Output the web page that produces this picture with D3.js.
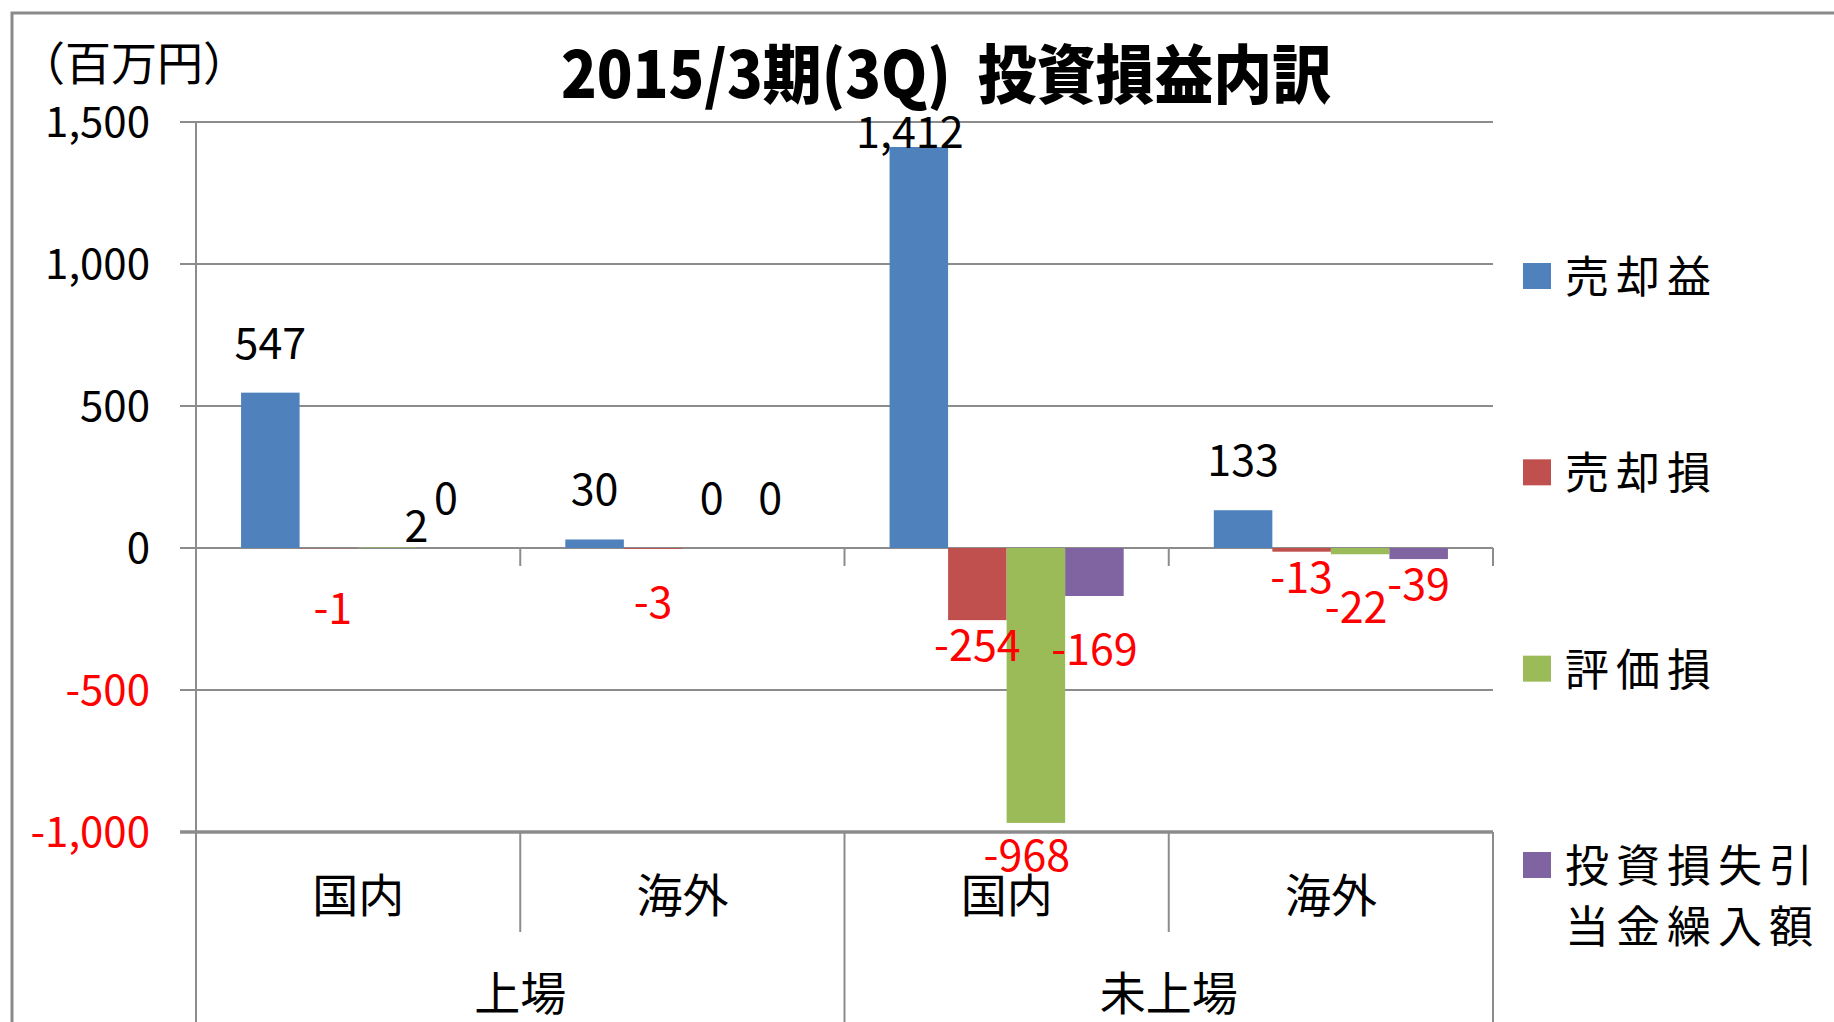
<!DOCTYPE html>
<html>
<head>
<meta charset="utf-8">
<script src="https://cdn.jsdelivr.net/npm/d3@7"></script>
<style>
  body { margin: 0; background: #fff; }
  text { font-family: "Noto Sans CJK JP", "Noto Sans", sans-serif; }
</style>
</head>
<body>
<svg id="svg"></svg>
<script>
// data
const groups = ["上場", "上場", "未上場", "未上場"];
const categories = ["国内", "海外", "国内", "海外"];
const seriesNames = ["売却益", "売却損", "評価損", "投資損失引当金繰入額"];

const gainOnSale = [547, 30, 1412, 133];
const lossOnSale = [-1, -3, -254, -13];
const valuationLoss = [2, 0, -968, -22];
const allowance = [0, 0, -169, -39];

const yTicks = [-1000, -500, 0, 500, 1000, 1500];
const colors = ["#4F81BD", "#C0504D", "#9BBB59", "#8064A2"];

const seriesValues = [gainOnSale, lossOnSale, valuationLoss, allowance];

// SVG setup
const width = 1834;
const height = 1022;

const svg = d3.select("#svg").attr("width", width).attr("height", height);

const plot = { left: 196, right: 1493, top: 122, bottom: 832 };
const gridColor = "#8c8c8c";
const fmt = d3.formatLocale({
    decimal: ".",
    thousands: ",",
    grouping: [3],
    currency: ["", ""],
    minus: "-",
}).format(",");

const y = d3.scaleLinear().domain([-1000, 1500]).range([plot.bottom, plot.top]);

const catKeys = categories.map((d, i) => i);
const x0 = d3.scaleBand().domain(catKeys).range([plot.left, plot.right]);
const x1 = d3
    .scaleBand()
    .domain(d3.range(seriesNames.length))
    .range([0, x0.bandwidth()])
    .paddingOuter(0.77);

// chart border (runs off the picture on right / bottom)
svg.append("rect")
    .attr("x", 12)
    .attr("y", 13)
    .attr("width", 2000)
    .attr("height", 2000)
    .attr("fill", "none")
    .attr("stroke", "#8a8a8a")
    .attr("stroke-width", 3);

// title
svg.append("text")
    .attr("x", 946)
    .attr("y", 98)
    .attr("text-anchor", "middle")
    .attr("font-size", 64)
    .attr("font-weight", 900)
    .attr("textLength", 770)
    .attr("lengthAdjust", "spacingAndGlyphs")
    .style("white-space", "pre")
    .text("2015/3期(3Q)  投資損益内訳");

svg.append("text")
    .attr("x", 19)
    .attr("y", 80)
    .attr("font-size", 46)
    .text("（百万円）");

// gridlines + y ticks
svg.selectAll("line.grid")
    .data(yTicks)
    .join("line")
    .attr("class", "grid")
    .attr("x1", 180)
    .attr("x2", plot.right)
    .attr("y1", (d) => y(d))
    .attr("y2", (d) => y(d))
    .attr("stroke", gridColor)
    .attr("stroke-width", (d) => (d === -1000 ? 3.5 : 2));

svg.selectAll("text.ytick")
    .data(yTicks)
    .join("text")
    .attr("class", "ytick")
    .attr("x", 150)
    .attr("y", (d) => y(d) + 15)
    .attr("text-anchor", "end")
    .attr("font-size", 42)
    .attr("fill", (d) => (d < 0 ? "#ff0000" : "#000"))
    .text((d) => fmt(d));

// y axis line
svg.append("line")
    .attr("x1", plot.left)
    .attr("x2", plot.left)
    .attr("y1", plot.top)
    .attr("y2", height)
    .attr("stroke", gridColor)
    .attr("stroke-width", 2);

// tick marks on zero line
const bounds = catKeys.map((d) => x0(d)).concat([plot.right]);
svg.selectAll("line.xtick")
    .data(bounds)
    .join("line")
    .attr("class", "xtick")
    .attr("x1", (d) => d)
    .attr("x2", (d) => d)
    .attr("y1", y(0))
    .attr("y2", y(0) + 18)
    .attr("stroke", gridColor)
    .attr("stroke-width", 2);

// bars
const bars = [];
catKeys.forEach((c) => {
    seriesValues.forEach((vals, s) => {
        bars.push({ c: c, s: s, value: vals[c] });
    });
});

svg.selectAll("rect.bar")
    .data(bars)
    .join("rect")
    .attr("class", "bar")
    .attr("x", (d) => x0(d.c) + x1(d.s))
    .attr("y", (d) => y(Math.max(0, d.value)))
    .attr("width", x1.bandwidth())
    .attr("height", (d) => Math.abs(y(d.value) - y(0)))
    .attr("fill", (d) => colors[d.s]);

// label nudges, as placed by hand in the original
const nudge = {
    "0-1": { dx: 4, dy: 35 },
    "0-2": { dx: 29, dy: 29 },
    "1-1": { dx: 0, dy: 28 },
    "2-0": { dx: -9, dy: 35 },
    "2-2": { dx: -9, dy: 7 },
    "2-3": { dx: 0, dy: 28 },
    "3-2": { dx: -4, dy: 28 },
};

svg.selectAll("text.label")
    .data(bars)
    .join("text")
    .attr("class", "label")
    .attr("x", (d) => {
        let n = nudge[d.c + "-" + d.s] || { dx: 0, dy: 0 };
        return x0(d.c) + x1(d.s) + x1.bandwidth() / 2 + n.dx;
    })
    .attr("y", (d) => {
        let n = nudge[d.c + "-" + d.s] || { dx: 0, dy: 0 };
        let base = d.value >= 0 ? y(d.value) - 34 : y(d.value) + 41;
        return base + n.dy;
    })
    .attr("text-anchor", "middle")
    .attr("font-size", 43)
    .attr("fill", (d) => (d.value < 0 ? "#ff0000" : "#000"))
    .text((d) => fmt(d.value));

// category labels (two levels)
svg.selectAll("line.catsep")
    .data(catKeys.filter((d) => d % 2 === 1))
    .join("line")
    .attr("class", "catsep")
    .attr("x1", (d) => x0(d))
    .attr("x2", (d) => x0(d))
    .attr("y1", plot.bottom)
    .attr("y2", plot.bottom + 100)
    .attr("stroke", gridColor)
    .attr("stroke-width", 2);

const groupStarts = catKeys.filter((d) => d === 0 || groups[d] !== groups[d - 1]);
svg.selectAll("line.groupsep")
    .data(groupStarts.map((d) => x0(d)).concat([plot.right]))
    .join("line")
    .attr("class", "groupsep")
    .attr("x1", (d) => d)
    .attr("x2", (d) => d)
    .attr("y1", plot.bottom)
    .attr("y2", height)
    .attr("stroke", gridColor)
    .attr("stroke-width", 2);

svg.selectAll("text.cat")
    .data(catKeys)
    .join("text")
    .attr("class", "cat")
    .attr("x", (d) => x0(d) + x0.bandwidth() / 2)
    .attr("y", 912)
    .attr("text-anchor", "middle")
    .attr("font-size", 46)
    .text((d) => categories[d]);

svg.selectAll("text.group")
    .data(groupStarts)
    .join("text")
    .attr("class", "group")
    .attr("x", (d) => {
        let n = groups.filter((g) => g === groups[d]).length;
        return x0(d) + (x0.bandwidth() * n) / 2;
    })
    .attr("y", 1010)
    .attr("text-anchor", "middle")
    .attr("font-size", 46)
    .text((d) => groups[d]);

// legend
const legendY = d3.scalePoint().domain(d3.range(seriesNames.length)).range([276, 865]);

const legend = svg.selectAll("g.legend")
    .data(seriesNames)
    .join("g")
    .attr("class", "legend")
    .attr("transform", (d, i) => `translate(1523,${legendY(i)})`);

legend.append("rect")
    .attr("x", 0)
    .attr("y", -13)
    .attr("width", 28)
    .attr("height", 26)
    .attr("fill", (d, i) => colors[i]);

legend.append("text")
    .attr("x", 42)
    .attr("y", 17)
    .attr("font-size", 44)
    .attr("letter-spacing", 7)
    .selectAll("tspan")
    .data((d) => d.match(/.{1,5}/g))
    .join("tspan")
    .attr("x", 42)
    .attr("dy", (d, i) => (i === 0 ? 0 : 61))
    .text((d) => d);
</script>
</body>
</html>
